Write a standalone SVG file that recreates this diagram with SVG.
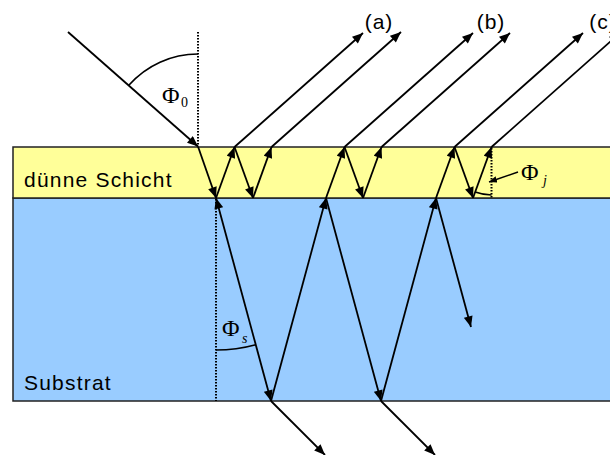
<svg xmlns="http://www.w3.org/2000/svg" width="610" height="455" viewBox="0 0 610 455">
  <defs>
    <marker id="ah" viewBox="0 0 12 10" refX="12" refY="5" markerWidth="12" markerHeight="9" markerUnits="userSpaceOnUse" orient="auto-start-reverse">
      <path d="M0,0 L12,5 L0,10 z" fill="#000"/>
    </marker>
    <marker id="ahs" viewBox="0 0 10 8" refX="10" refY="4" markerWidth="8" markerHeight="6.5" markerUnits="userSpaceOnUse" orient="auto">
      <path d="M0,0 L10,4 L0,8 z" fill="#000"/>
    </marker>
    <style>
      .layer { stroke: #222; stroke-width: 1.5; }
      .film { fill: #ffff99; }
      .sub { fill: #99ccff; }
      .ray { fill: none; stroke: #000; stroke-width: 1.8; }
      .arr { marker-end: url(#ah); }
      .dot { fill: none; stroke: #000; stroke-width: 2; stroke-dasharray: 1.6 1.4; }
      .arc { fill: none; stroke: #000; stroke-width: 1.6; }
      .lbl { font-family: "Liberation Sans", Arial, sans-serif; font-size: 21px; letter-spacing: 1.2px; fill: #000; }
      .phi { font-family: "Liberation Serif", "Times New Roman", serif; font-size: 24px; fill: #000; }
      .sub0 { font-family: "Liberation Serif", "Times New Roman", serif; font-size: 14px; fill: #000; }
      .subi { font-family: "Liberation Serif", "Times New Roman", serif; font-size: 14px; font-style: italic; fill: #000; }
    </style>
  </defs>

  <g id="substrate">
    <rect class="layer sub" x="13" y="198" width="610" height="203"/>
    <text class="lbl" x="24" y="390">Substrat</text>
  </g>
  <g id="film">
    <rect class="layer film" x="13" y="147" width="610" height="51"/>
    <text class="lbl" x="24" y="187">dünne Schicht</text>
  </g>

  <g id="normals">
    <line class="dot" x1="198" y1="32" x2="198" y2="146"/>
    <line class="dot" x1="216" y1="199" x2="216" y2="401"/>
    <line class="dot" x1="491.5" y1="148" x2="491.5" y2="198"/>
  </g>

  <g id="connectors">
    <!-- incident ray -->
    <line class="ray arr" x1="68" y1="32" x2="198" y2="146.5"/>
    <!-- film zigzags -->
    <line class="ray arr" x1="198" y1="146.5" x2="216" y2="198"/>
    <line class="ray arr" x1="216" y1="198" x2="234.5" y2="147"/>
    <line class="ray arr" x1="234.5" y1="147" x2="253" y2="198"/>
    <line class="ray arr" x1="253" y1="198" x2="271.5" y2="147"/>

    <line class="ray arr" x1="326" y1="198" x2="344.5" y2="147"/>
    <line class="ray arr" x1="344.5" y1="147" x2="363" y2="198"/>
    <line class="ray arr" x1="363" y1="198" x2="381.5" y2="147"/>

    <line class="ray arr" x1="436" y1="198" x2="454.5" y2="147"/>
    <line class="ray arr" x1="454.5" y1="147" x2="473" y2="198"/>
    <line class="ray arr" x1="473" y1="198" x2="491.5" y2="147"/>

    <!-- reflected rays out -->
    <line class="ray arr" x1="234.5" y1="147" x2="363" y2="33"/>
    <line class="ray arr" x1="271.5" y1="147" x2="401" y2="32"/>
    <line class="ray arr" x1="344.5" y1="147" x2="473" y2="33"/>
    <line class="ray arr" x1="381.5" y1="147" x2="510" y2="33"/>
    <line class="ray arr" x1="454.5" y1="147" x2="583" y2="33"/>
    <line class="ray arr" x1="491.5" y1="147" x2="620" y2="33"/>

    <!-- substrate rays -->
    <line class="ray arr" x1="216" y1="198" x2="271" y2="401" style="marker-start:url(#ah)"/>
    <line class="ray arr" x1="271" y1="401" x2="326" y2="198"/>
    <line class="ray arr" x1="326" y1="198" x2="381" y2="401"/>
    <line class="ray arr" x1="381" y1="401" x2="436" y2="198"/>
    <line class="ray arr" x1="436" y1="198" x2="471" y2="327"/>

    <!-- transmitted rays out the bottom -->
    <line class="ray arr" x1="271" y1="401" x2="325" y2="455"/>
    <line class="ray arr" x1="381" y1="401" x2="435" y2="455"/>

    <!-- pointer to angle j -->
    <line class="ray" x1="518" y1="172" x2="489" y2="182" style="stroke-width:1.5;marker-end:url(#ahs)"/>
  </g>

  <g id="angles">
    <path class="arc" d="M128.8,85.3 A92,92 0 0 1 198,54"/>
    <path class="arc" d="M216,350 A152,152 0 0 0 255.8,344.7"/>
    <path class="arc" d="M475.1,192.1 A48,48 0 0 0 491.5,195"/>
  </g>

  <g id="angle-labels">
    <text class="phi" x="162" y="103">Φ</text>
    <text class="sub0" x="181" y="107">0</text>
    <text class="phi" x="222" y="336">Φ</text>
    <text class="subi" x="242" y="343">s</text>
    <text class="phi" x="521" y="180">Φ</text>
    <text class="subi" x="543" y="185">j</text>
  </g>

  <g id="beam-labels">
    <text class="lbl" x="379" y="29" text-anchor="middle" style="letter-spacing:1px">(a)</text>
    <text class="lbl" x="491" y="29" text-anchor="middle" style="letter-spacing:1px">(b)</text>
    <text class="lbl" x="603" y="29" text-anchor="middle" style="letter-spacing:1px">(c)</text>
  </g>
</svg>
